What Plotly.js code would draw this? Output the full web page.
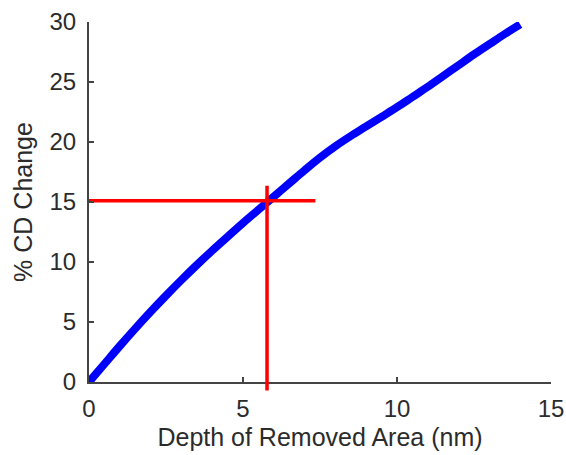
<!DOCTYPE html>
<html>
<head>
<meta charset="utf-8">
<script src="https://cdn.plot.ly/plotly-3.0.1.min.js"></script>
<style>html,body{margin:0;padding:0;background:#fff;}#chart{width:566px;height:455px;}</style>
</head>
<body>
<div id="chart"></div>
<script>
// Blue curve: % CD change vs depth of removed area
var depth = [0, 0.5, 1, 1.5, 2, 2.5, 3, 3.5, 4, 4.5, 5, 5.5, 6, 6.5, 7, 7.5,
             8, 8.5, 9, 9.5, 10, 10.5, 11, 11.5, 12, 12.5, 13, 13.5, 14];
var cdChange = [0, 1.5, 3.0, 4.45, 5.85, 7.2, 8.5, 9.75, 10.95, 12.1, 13.25, 14.35, 15.45, 16.55, 17.65, 18.7,
                19.65, 20.5, 21.3, 22.1, 22.9, 23.75, 24.6, 25.5, 26.4, 27.3, 28.15, 29.0, 29.8];

// Red cross-hair lines
var hLineX = [0, 7.35];
var hLineY = [15.1, 15.1];
var vLineX = 5.78;
var vLineTop = 16.4;
var vLineBottom = -0.7;

var xTicks = [0, 5, 10, 15];
var yTicks = [0, 5, 10, 15, 20, 25, 30];

var fontFam = '"Liberation Sans", Arial, sans-serif';
var axisColor = '#444444';

var data = [
  {x: depth, y: cdChange, type: 'scatter', mode: 'lines',
   line: {color: '#0000ff', width: 8, shape: 'spline', smoothing: 1}, hoverinfo: 'none'},
  {x: hLineX, y: hLineY, type: 'scatter', mode: 'lines',
   line: {color: '#ff0000', width: 3.5}, hoverinfo: 'none'}
];

var layout = {
  width: 566, height: 455,
  margin: {l: 89, r: 15, t: 22, b: 73, pad: 0},
  paper_bgcolor: '#ffffff', plot_bgcolor: '#ffffff',
  showlegend: false,
  font: {family: fontFam, size: 24, color: '#2b2b2b'},
  xaxis: {
    range: [0, 15], tickvals: xTicks, ticktext: xTicks.map(String),
    showgrid: false, zeroline: false, showline: true,
    linecolor: axisColor, linewidth: 2, mirror: false,
    ticks: 'inside', ticklen: 5, tickwidth: 1.5, tickcolor: axisColor,
    tickfont: {size: 24}, ticklabelstandoff: 4,
    title: {text: 'Depth of Removed Area (nm)', font: {size: 25}, standoff: 8}
  },
  yaxis: {
    range: [0, 30], tickvals: yTicks, ticktext: yTicks.map(String),
    showgrid: false, zeroline: false, showline: true,
    linecolor: axisColor, linewidth: 2, mirror: false,
    ticks: 'inside', ticklen: 5, tickwidth: 1.5, tickcolor: axisColor,
    tickfont: {size: 24}, ticklabelstandoff: 6,
    title: {text: '% CD Change', font: {size: 25}, standoff: 10}
  },
  annotations: [
    {x: vLineX, y: vLineBottom, xref: 'x', yref: 'y',
     ax: vLineX, ay: vLineTop, axref: 'x', ayref: 'y',
     text: '', showarrow: true, arrowhead: 0, arrowwidth: 3.5,
     arrowcolor: '#ff0000', standoff: 0, startstandoff: 0, borderpad: 0}
  ]
};

Plotly.newPlot('chart', data, layout, {displayModeBar: false, staticPlot: true});
</script>
</body>
</html>
